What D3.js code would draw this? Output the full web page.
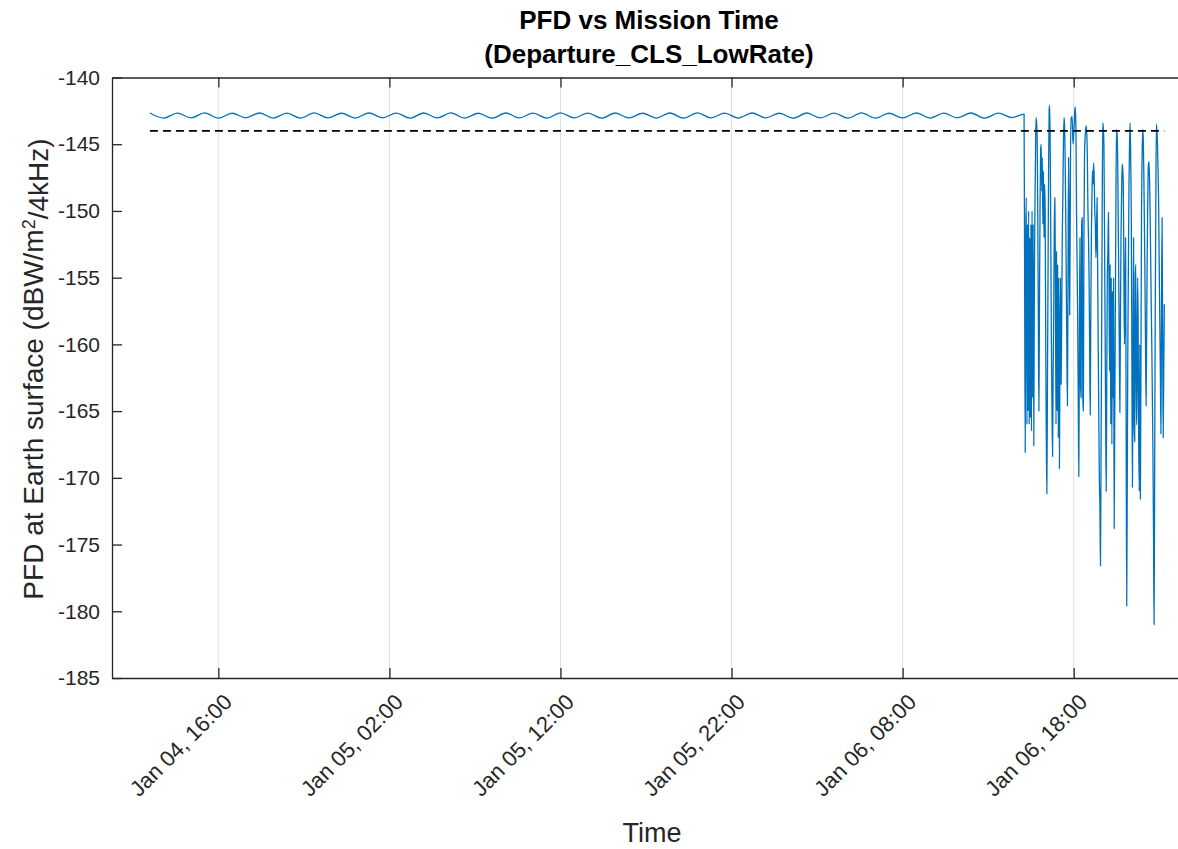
<!DOCTYPE html>
<html>
<head>
<meta charset="utf-8">
<script src="https://cdn.jsdelivr.net/npm/d3@7"></script>
<style>
  body { margin: 0; background: #ffffff; }
  svg { display: block; }
  text { font-family: "Liberation Sans", Arial, Helvetica, sans-serif; fill: #262626; }
</style>
</head>
<body>
<svg id="chart" width="1178" height="849"></svg>
<script>
// ---- chart text ----
const titleLines = ["PFD vs Mission Time", "(Departure_CLS_LowRate)"];
const xLabel = "Time";
const yLabelMain = "PFD at Earth surface (dBW/m";
const yLabelSup = "2";
const yLabelTail = "/4kHz)";

// ---- axes ----
const xLimits = ["2025-01-04T09:47:00Z", "2025-01-07T00:48:00Z"];
const yLimits = [-185, -140];
const xTickTimes = [
  "2025-01-04T16:00:00Z", "2025-01-05T02:00:00Z", "2025-01-05T12:00:00Z",
  "2025-01-05T22:00:00Z", "2025-01-06T08:00:00Z", "2025-01-06T18:00:00Z"
];
const yTicks = [-185, -180, -175, -170, -165, -160, -155, -150, -145, -140];

// ---- PFD limit (dBW/m^2/4kHz) ----
const pfdLimit = -144;

// ---- PFD, cruise segment: samples every 48 min ----
const cruiseStart = "2025-01-04T12:00:00Z";
const cruiseStepMinutes = 48;
const cruisePfd = [
  -142.66, -143.04, -142.67, -143.03, -142.65, -143.05, -142.68, -143.02,
  -142.66, -143.04, -142.67, -143.05, -142.65, -143.03, -142.68, -143.04,
  -142.66, -143.02, -142.67, -143.05, -142.66, -143.03, -142.65, -143.04,
  -142.68, -143.05, -142.66, -143.03, -142.67, -143.04, -142.65, -143.02,
  -142.67, -143.05, -142.66, -143.03, -142.68, -143.04, -142.66, -143.05,
  -142.65, -143.03, -142.67, -143.04, -142.66, -143.02, -142.68, -143.05,
  -142.66, -143.03, -142.67, -143.04, -142.65, -143.05, -142.68, -143.03,
  -142.66, -143.04, -142.67, -143.02, -142.66, -143.05, -142.67, -143.00
];

// ---- PFD, final segment: samples every 2 min ----
const finalStart = "2025-01-06T15:06:00Z";
const finalStepMinutes = 2;
const finalPfd = [
  -142.74, -155.0, -168.1, -152.0, -149.0, -166.0, -151.0, -165.0,
  -150.0, -166.0, -152.0, -165.5, -151.0, -166.5, -150.0, -164.0,
  -151.0, -167.6, -156.0, -150.0, -146.0, -143.0, -143.4, -144.5,
  -150.0, -158.0, -165.0, -157.0, -150.0, -145.5, -145.0, -148.5,
  -146.0, -151.0, -147.0, -152.0, -148.0, -150.0, -160.0, -167.0,
  -171.2, -163.0, -155.0, -147.0, -142.4, -142.1, -146.0, -153.0,
  -160.0, -165.0, -168.4, -162.0, -158.0, -151.0, -149.0, -155.0,
  -166.0, -153.0, -165.0, -154.0, -167.0, -155.0, -169.3, -160.0,
  -155.0, -163.0, -158.0, -152.0, -149.0, -145.0, -143.0, -143.5,
  -146.0, -150.0, -155.0, -160.0, -164.6, -156.0, -146.0, -151.0,
  -157.8, -150.0, -143.0, -143.2, -142.9, -144.0, -145.0, -144.2,
  -143.5, -142.5, -142.2, -144.0, -150.0, -154.0, -158.0, -164.0,
  -169.9, -160.0, -152.0, -163.0, -164.0, -151.0, -150.5, -164.0,
  -165.0, -152.0, -146.0, -144.5, -143.9, -143.6, -144.3, -146.0,
  -149.9, -152.0, -155.0, -160.0, -165.3, -158.0, -152.0, -149.0,
  -147.0, -148.0, -146.4, -147.5, -150.0, -151.0, -153.5, -152.0,
  -149.0, -154.0, -160.0, -165.0, -170.0, -172.0, -176.6, -168.0,
  -160.0, -150.0, -143.4, -143.8, -145.0, -151.0, -158.0, -165.0,
  -171.0, -163.0, -155.0, -153.0, -150.1, -156.0, -162.0, -154.0,
  -166.0, -155.0, -167.5, -156.0, -164.0, -155.0, -173.8, -166.0,
  -158.0, -150.0, -143.9, -144.2, -145.5, -150.0, -155.0, -160.0,
  -165.1, -158.0, -152.0, -149.0, -146.5, -146.8, -148.0, -154.0,
  -160.0, -157.0, -152.0, -166.0, -179.6, -170.0, -160.0, -154.0,
  -148.0, -145.0, -143.4, -146.0, -150.0, -160.0, -170.7, -162.0,
  -152.0, -166.0, -167.3, -155.0, -154.0, -166.0, -166.0, -155.0,
  -158.0, -167.0, -171.0, -160.0, -171.6, -161.0, -150.0, -146.0,
  -143.9, -144.5, -147.0, -151.0, -155.0, -160.0, -164.6, -159.0,
  -153.0, -149.0, -146.6, -146.3, -147.5, -150.0, -153.5, -157.0,
  -160.0, -164.0, -168.0, -174.0, -181.0, -170.0, -158.0, -150.0,
  -143.5, -144.0, -145.0, -147.0, -149.5, -154.0, -158.0, -162.0,
  -166.7, -158.0, -150.5, -159.0, -167.0, -162.0, -157.0
];

// ---- layout ----
const width = 1178, height = 849;
const plot = { left: 112, top: 77.5, right: 1190, bottom: 678 };
const axisColor = "#262626";
const lineColor = "#0072BD";
const gridColor = "#dfdfdf";

const parse = s => new Date(s);
const MIN = 60000;

// assemble the time series
const series = [];
cruisePfd.forEach((v, i) => series.push({ t: new Date(parse(cruiseStart).getTime() + i * cruiseStepMinutes * MIN), v }));
finalPfd.forEach((v, i) => series.push({ t: new Date(parse(finalStart).getTime() + i * finalStepMinutes * MIN), v }));

const svg = d3.select("#chart");
svg.append("rect").attr("width", width).attr("height", height).attr("fill", "#ffffff");

const x = d3.scaleUtc().domain(xLimits.map(parse)).range([plot.left, plot.right]);
const y = d3.scaleLinear().domain(yLimits).range([plot.bottom, plot.top]);

// clip to the axes box
svg.append("clipPath").attr("id", "plotClip")
  .append("rect")
  .attr("x", plot.left).attr("y", plot.top)
  .attr("width", plot.right - plot.left).attr("height", plot.bottom - plot.top);

// vertical grid lines
svg.append("g").selectAll("line")
  .data(xTickTimes.map(parse))
  .join("line")
  .attr("x1", d => x(d)).attr("x2", d => x(d))
  .attr("y1", plot.top).attr("y2", plot.bottom)
  .attr("stroke", gridColor).attr("stroke-width", 1);

const plotG = svg.append("g").attr("clip-path", "url(#plotClip)");

// PFD trace
const line = d3.line()
  .x(d => x(d.t))
  .y(d => y(d.v))
  .curve(d3.curveMonotoneX);

plotG.append("path")
  .datum(series)
  .attr("d", line)
  .attr("fill", "none")
  .attr("stroke", lineColor)
  .attr("stroke-width", 1.3)
  .attr("stroke-linejoin", "round");

// PFD limit line over the span of the trace
const tFirst = series[0].t, tLast = series[series.length - 1].t;
plotG.append("line")
  .attr("x1", x(tFirst)).attr("x2", x(tLast))
  .attr("y1", y(pfdLimit)).attr("y2", y(pfdLimit))
  .attr("stroke", "#000000")
  .attr("stroke-width", 1.6)
  .attr("stroke-dasharray", "8,5");

// axes
const fmt = d3.utcFormat("%b %d, %H:%M");
const tickLen = 10;

const xAxis = svg.append("g")
  .attr("transform", `translate(0,${plot.bottom})`)
  .call(d3.axisBottom(x).tickValues(xTickTimes.map(parse)).tickFormat(fmt)
    .tickSizeInner(-tickLen).tickSizeOuter(0));
xAxis.selectAll("text")
  .attr("text-anchor", "end")
  .attr("x", 0).attr("y", 0).attr("dy", "0.35em")
  .attr("transform", "translate(9,20) rotate(-45)")
  .style("font-size", "22px")
  .style("fill", axisColor);

const xTop = svg.append("g")
  .attr("transform", `translate(0,${plot.top})`)
  .call(d3.axisTop(x).tickValues(xTickTimes.map(parse)).tickFormat(() => "")
    .tickSizeInner(-tickLen).tickSizeOuter(0));

const yAxis = svg.append("g")
  .attr("transform", `translate(${plot.left},0)`)
  .call(d3.axisLeft(y).tickValues(yTicks).tickFormat(d => String(d))
    .tickSizeInner(-tickLen).tickSizeOuter(0).tickPadding(12));
yAxis.selectAll("text")
  .style("font-size", "21px")
  .style("fill", axisColor);

[xAxis, xTop, yAxis].forEach(g => {
  g.select(".domain").attr("stroke", axisColor).attr("stroke-width", 1.3);
  g.selectAll(".tick line").attr("stroke", axisColor).attr("stroke-width", 1.3);
  g.attr("font-family", null).attr("font-size", null);
});

// axis labels
svg.append("text")
  .attr("x", 652)
  .attr("y", 842)
  .attr("text-anchor", "middle")
  .style("font-size", "27px")
  .text(xLabel);

const yl = svg.append("text")
  .attr("transform", "translate(43,369) rotate(-90)")
  .attr("text-anchor", "middle")
  .style("font-size", "28px");
yl.append("tspan").text(yLabelMain);
yl.append("tspan").attr("dy", "-0.45em").style("font-size", "18px").text(yLabelSup);
yl.append("tspan").attr("dy", "0.45em").text(yLabelTail);

// title
const title = svg.append("text")
  .attr("text-anchor", "middle")
  .style("font-size", "26px")
  .style("font-weight", "bold")
  .style("fill", "#000000");
title.append("tspan").attr("x", 649).attr("y", 29).text(titleLines[0]);
title.append("tspan").attr("x", 649).attr("y", 63).text(titleLines[1]);
</script>
</body>
</html>
